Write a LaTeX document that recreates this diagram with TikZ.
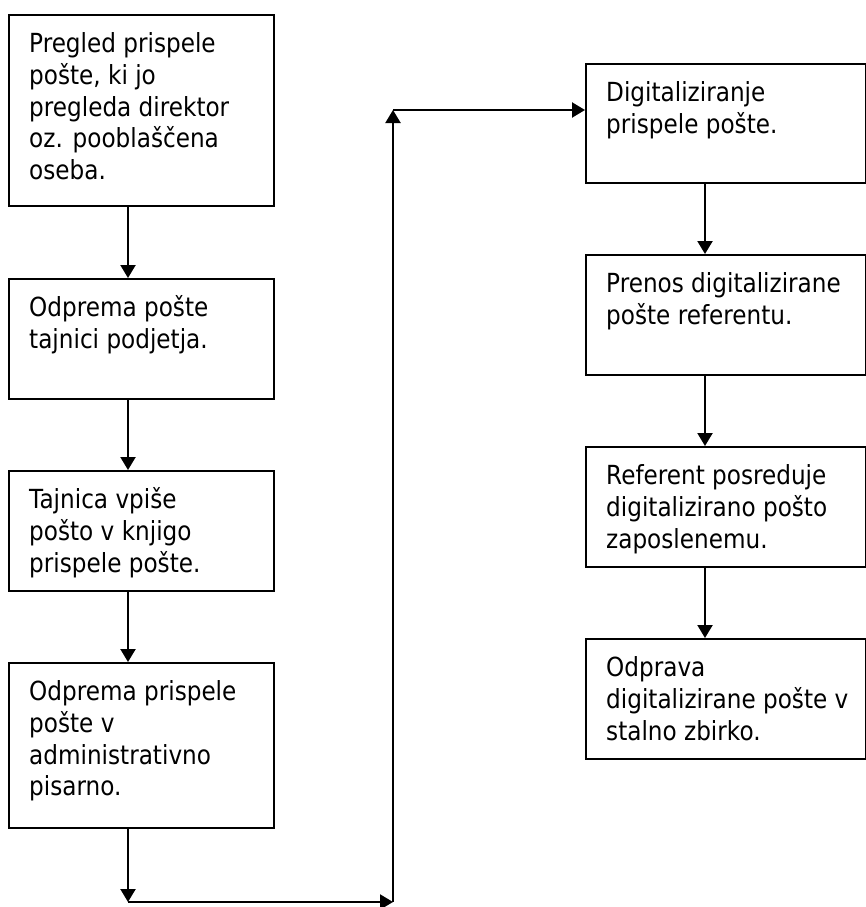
\documentclass[tikz,border=0pt]{standalone}
\usepackage{fontspec}
\setmainfont{DejaVu Sans}[FakeStretch=0.88]
\usetikzlibrary{arrows.meta}
\begin{document}
\begin{tikzpicture}[x=1pt,y=-1pt,
  box/.style={draw=black,line width=2.2pt,rectangle,anchor=north west,inner sep=0pt},
  lbox/.style={box,minimum width=265pt},
  rbox/.style={box,minimum width=280pt},
  txt/.style={anchor=base west,inner sep=0pt,font=\fontsize{26.3pt}{31.7pt}\selectfont,xshift=21pt,yshift=-38.7pt},
  conn/.style={line width=2.2pt},
  arr/.style={conn,-{Triangle[width=15pt,length=13pt]}}]
\useasboundingbox (0,0) rectangle (865,907);
% left column
\node[lbox,minimum height=191pt] (L1) at (8,14) {};
\node[lbox,minimum height=120pt] (L2) at (8,278) {};
\node[lbox,minimum height=120pt] (L3) at (8,470) {};
\node[lbox,minimum height=165pt] (L4) at (8,662) {};
% right column
\node[rbox,minimum height=119pt] (R1) at (585,63) {};
\node[rbox,minimum height=120pt] (R2) at (585,254) {};
\node[rbox,minimum height=120pt] (R3) at (585,446) {};
\node[rbox,minimum height=120pt] (R4) at (585,638) {};
% texts
\node[txt] (t1) at (L1.north west) {\parbox[t]{240pt}{Pregled prispele\\pošte, ki jo\\pregleda direktor\\oz. pooblaščena\\oseba.}};
\node[txt] (t2) at (L2.north west) {\parbox[t]{240pt}{Odprema pošte\\tajnici podjetja.}};
\node[txt] (t3) at (L3.north west) {\parbox[t]{240pt}{Tajnica vpiše\\pošto v knjigo\\prispele pošte.}};
\node[txt] (t4) at (L4.north west) {\parbox[t]{240pt}{Odprema prispele\\pošte v\\administrativno\\pisarno.}};
\node[txt] (t5) at (R1.north west) {\parbox[t]{260pt}{Digitaliziranje\\prispele pošte.}};
\node[txt] (t6) at (R2.north west) {\parbox[t]{260pt}{Prenos digitalizirane\\pošte referentu.}};
\node[txt] (t7) at (R3.north west) {\parbox[t]{260pt}{Referent posreduje\\digitalizirano pošto\\zaposlenemu.}};
\node[txt] (t8) at (R4.north west) {\parbox[t]{260pt}{Odprava\\digitalizirane pošte v\\stalno zbirko.}};
% connector helper coordinates
\coordinate (ax) at (128,0);
\coordinate (bx) at (705,0);
\coordinate (c1) at (128,902);
\coordinate (c2) at (393,902);
\coordinate (c3) at (393,110);
% left column arrows
\draw[arr] (L1.south -| ax) -- (L2.north -| ax);
\draw[arr] (L2.south -| ax) -- (L3.north -| ax);
\draw[arr] (L3.south -| ax) -- (L4.north -| ax);
\draw[arr] (L4.south -| ax) -- (c1);
\draw[arr] (c1) -- (c2);
\draw[arr] (c2) -- (c3);
\draw[arr] (c3) -- (c3 -| R1.west);
% right column arrows
\draw[arr] (R1.south -| bx) -- (R2.north -| bx);
\draw[arr] (R2.south -| bx) -- (R3.north -| bx);
\draw[arr] (R3.south -| bx) -- (R4.north -| bx);
\end{tikzpicture}
\end{document}
